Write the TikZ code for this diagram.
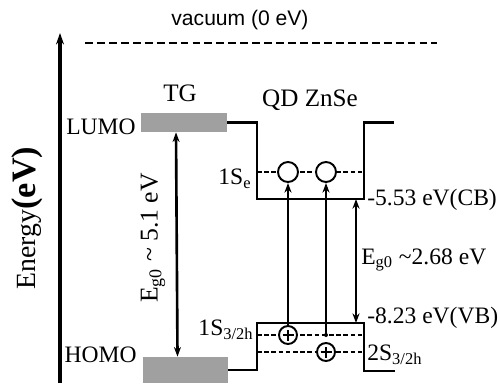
\documentclass[tikz,border=0pt]{standalone}
\usepackage{fontspec}
\setmainfont{Liberation Serif}
\newfontfamily\vacfont{Liberation Sans}
\usetikzlibrary{arrows.meta,positioning,calc}
\definecolor{BarGray}{HTML}{A0A0A0}
\tikzset{
  bar/.style={draw=none,fill=BarGray,inner sep=0pt},
  lbl/.style={inner sep=0pt,font=\fontsize{13.4}{16}\selectfont},
  title/.style={inner sep=0pt,font=\fontsize{14.3}{17}\selectfont},
  well/.style={draw=black,line width=1.6pt},
  state/.style={draw=black,dash pattern=on 2.6pt off 1.5pt,line width=1.5pt},
  elec/.style={circle,draw=black,fill=white,line width=1.1pt,minimum size=.4cm,inner sep=0pt},
  hole/.style={elec,minimum size=.36cm,path picture={
      \draw[line width=1.1pt] ([xshift=-.11cm]path picture bounding box.center) -- ([xshift=.11cm]path picture bounding box.center)
        ([yshift=-.11cm]path picture bounding box.center) -- ([yshift=.11cm]path picture bounding box.center);}},
  exc/.style={-{Stealth[length=5.5pt,width=4pt]},draw=black,line width=1.5pt},
  gap/.style={{Stealth[length=5.5pt,width=4pt]}-{Stealth[length=5.5pt,width=4pt]},draw=black,line width=1.5pt}
}
\begin{document}
\begin{tikzpicture}[x=.02cm,y=-.02cm]
  \useasboundingbox (0,0) rectangle (500,383);
  % energy axis and vacuum level
  \coordinate (axb) at (60,383);
  \coordinate (axt) at (60,33);
  \draw[-{Stealth[length=6.5pt,width=4.5pt]},line width=1.8pt] (axb) -- (axt);
  \node[rotate=90,inner sep=0pt] (axis) at (27,218) {\rmfamily\fontsize{15.8}{18}\selectfont Energy\fontsize{19.5}{22}\selectfont\bfseries(eV)};
  \coordinate (vl) at (85,43);
  \coordinate (vr) at (437,43);
  \draw[dash pattern=on 4.5pt off 2.3pt,line width=1.6pt] (vl) -- (vr);
  \node[inner sep=0pt,font=\vacfont\fontsize{12}{14}\selectfont] (vac) at (240,20) {vacuum (0 eV)};

  % TG levels
  \node[bar,minimum width=1.72cm,minimum height=.38cm] (lumo) at (184,122.5) {};
  \node[bar,minimum width=1.7cm,minimum height=.52cm] (homo) at (185.5,370) {};
  \node[title] (tg) at (180,93) {TG};
  \node[lbl,anchor=east] (lumol) at (136,127) {LUMO};
  \node[lbl,anchor=east] (homol) at (137,355) {HOMO};
  \draw[gap] ([xshift=-.16cm]lumo.south) -- ([xshift=-.16cm]homo.north);
  \node[lbl,rotate=90,font=\fontsize{14.6}{17}\selectfont] (egtg) at (153,238) {E\textsubscript{g0} \textasciitilde\ 5.1 eV};

  % ZnSe quantum dot well
  \node[title] (qd) at (310,100) {QD ZnSe};
  \coordinate (cbl) at (257,199);
  \coordinate (cbr) at (364,199);
  \coordinate (vbl) at (257,323);
  \coordinate (vbr) at (364,323);
  \draw[well] (lumo.east) -- (cbl |- lumo.east) -- (cbl) -- (cbr) -- (cbr |- lumo.east) -- ++(30,0);
  \draw[well] (homo.east) -- (vbl |- homo.east) -- (vbl) -- (vbr) -- ($(vbr)+(0,48)$) -- ++(31,0);

  \draw[state] (257,172) -- (364,172);
  \draw[state] (257,335) -- (364,335);
  \draw[state] (257,352) -- (364,352);
  \node[elec] (e1) at (288,172) {};
  \node[elec] (e2) at (326,172) {};
  \node[hole] (h1) at (288,335) {};
  \node[hole] (h2) at (326,352) {};
  \coordinate (h1b) at (326,335);
  \fill (h1b) circle (2);
  \draw[exc] (h1.north) -- (e1.south);
  \draw[exc] (h1b) -- (e2.south);
  \draw[gap] ([xshift=-.16cm]cbr) -- ([xshift=-.16cm]vbr);

  \node[lbl] (se) at (235,179) {1S\textsubscript{e}};
  \node[lbl] (s1h) at (226,330) {1S\textsubscript{3/2h}};
  \node[lbl,anchor=west] (s2h) at (367,355) {2S\textsubscript{3/2h}};
  \node[lbl,anchor=west] (cb) at (367,200) {-5.53 eV(CB)};
  \node[lbl,anchor=west] (vb) at (367,318) {-8.23 eV(VB)};
  \node[lbl,anchor=west] (egqd) at (361,260) {E\textsubscript{g0} \textasciitilde 2.68 eV};
\end{tikzpicture}
\end{document}
